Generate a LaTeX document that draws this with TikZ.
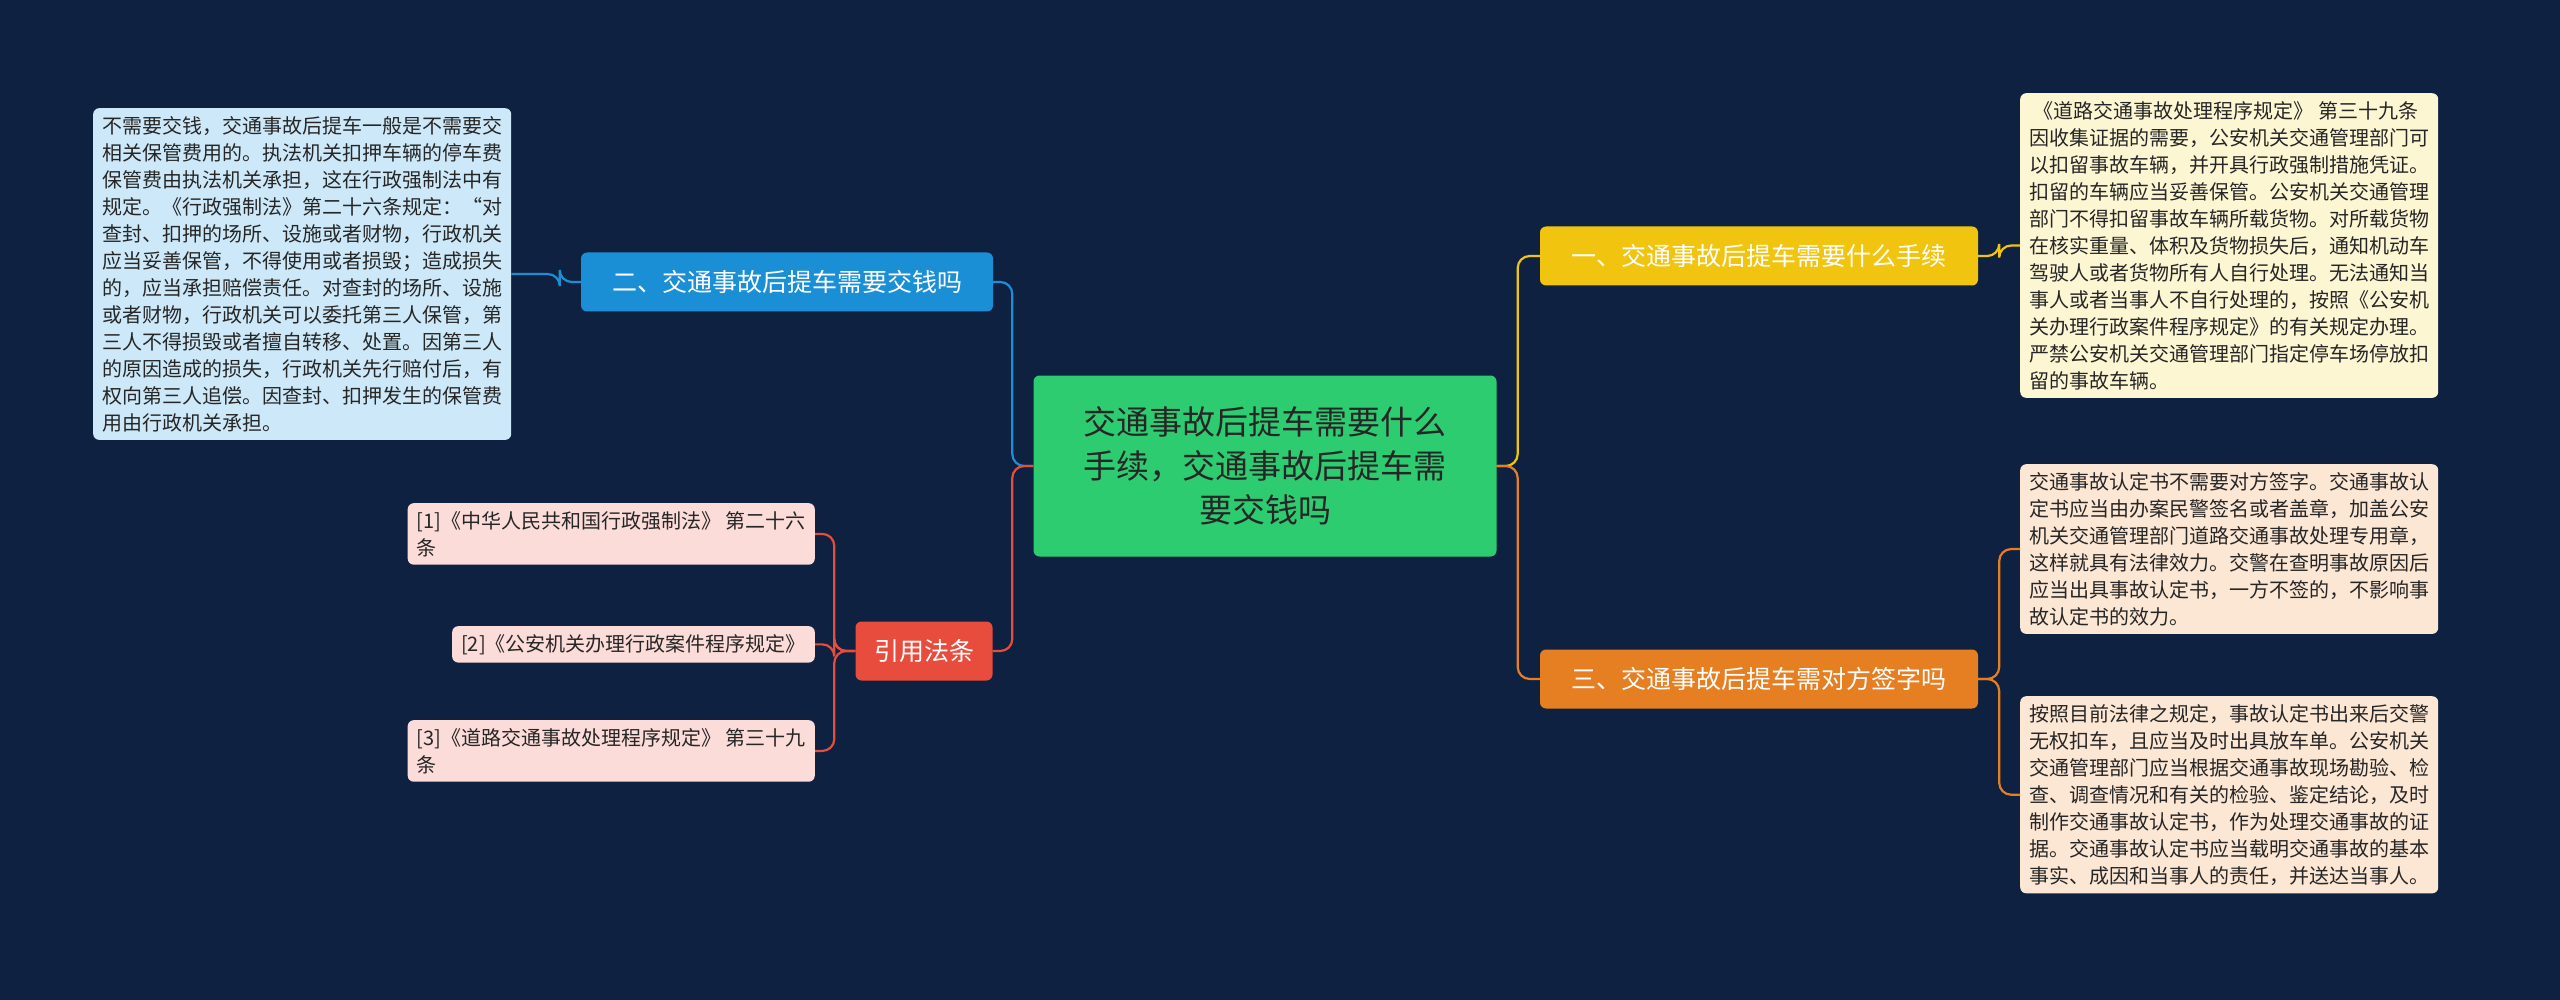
\documentclass[tikz,border=0pt]{standalone}
\usepackage{fontspec}
\setmainfont{Noto Sans CJK SC}
\usepackage{tikz}
\definecolor{bgc}{HTML}{0E2140}
\definecolor{rootc}{HTML}{2ECC71}
\definecolor{yelc}{HTML}{F1C40F}
\definecolor{orac}{HTML}{E67E22}
\definecolor{bluc}{HTML}{1B8FD6}
\definecolor{redc}{HTML}{E74C3C}
\definecolor{creamc}{HTML}{FDF6D3}
\definecolor{peachc}{HTML}{FCE6D4}
\definecolor{skyc}{HTML}{CDE9F9}
\definecolor{pinkc}{HTML}{FBDCD9}
\tikzset{
  leaf/.style={anchor=north west, rounded corners=6pt, inner xsep=9pt, inner ysep=8pt,
    align=left, font=\fontsize{20}{27}\selectfont, text=black!85},
  branch/.style={rounded corners=6pt, text=white, font=\fontsize{25}{30}\selectfont,
    minimum height=59pt, inner xsep=10pt},
  link/.style={line width=2.2pt, rounded corners=12pt}
}
\begin{document}
\begin{tikzpicture}[x=1pt,y=-1pt]
\fill[bgc] (0,0) rectangle (2560,1000);
\useasboundingbox (0,0) rectangle (2560,1000);
% root
\node[fill=rootc, rounded corners=6pt, minimum width=463pt, minimum height=181pt, align=center,
  font=\fontsize{33}{44}\selectfont, text=black!85] (root) at (1265,466)
  {交通事故后提车需要什么\\手续，交通事故后提车需\\要交钱吗};
% branches
\node[branch, fill=yelc, minimum width=438pt] (b1) at (1759,256) {一、交通事故后提车需要什么手续};
\node[branch, fill=orac, minimum width=438pt] (b3) at (1759,679) {三、交通事故后提车需对方签字吗};
\node[branch, fill=bluc, minimum width=412pt] (b2) at (787,282) {二、交通事故后提车需要交钱吗};
\node[branch, fill=redc, minimum width=137pt] (b4) at (924,651) {引用法条};
% leaves
\node[leaf, fill=creamc] (l1) at (2020,93) {%
\ 《道路交通事故处理程序规定》 第三十九条\\
因收集证据的需要，公安机关交通管理部门可\\
以扣留事故车辆，并开具行政强制措施凭证。\\
扣留的车辆应当妥善保管。公安机关交通管理\\
部门不得扣留事故车辆所载货物。对所载货物\\
在核实重量、体积及货物损失后，通知机动车\\
驾驶人或者货物所有人自行处理。无法通知当\\
事人或者当事人不自行处理的，按照《公安机\\
关办理行政案件程序规定》的有关规定办理。\\
严禁公安机关交通管理部门指定停车场停放扣\\
留的事故车辆。};
\node[leaf, fill=peachc] (l2) at (2020,464) {%
交通事故认定书不需要对方签字。交通事故认\\
定书应当由办案民警签名或者盖章，加盖公安\\
机关交通管理部门道路交通事故处理专用章，\\
这样就具有法律效力。交警在查明事故原因后\\
应当出具事故认定书，一方不签的，不影响事\\
故认定书的效力。};
\node[leaf, fill=peachc] (l3) at (2020,696) {%
按照目前法律之规定，事故认定书出来后交警\\
无权扣车，且应当及时出具放车单。公安机关\\
交通管理部门应当根据交通事故现场勘验、检\\
查、调查情况和有关的检验、鉴定结论，及时\\
制作交通事故认定书，作为处理交通事故的证\\
据。交通事故认定书应当载明交通事故的基本\\
事实、成因和当事人的责任，并送达当事人。};
\node[leaf, fill=skyc] (l4) at (93,108) {%
不需要交钱，交通事故后提车一般是不需要交\\
相关保管费用的。执法机关扣押车辆的停车费\\
保管费由执法机关承担，这在行政强制法中有\\
规定。《行政强制法》第二十六条规定：“对\\
查封、扣押的场所、设施或者财物，行政机关\\
应当妥善保管，不得使用或者损毁；造成损失\\
的，应当承担赔偿责任。对查封的场所、设施\\
或者财物，行政机关可以委托第三人保管，第\\
三人不得损毁或者擅自转移、处置。因第三人\\
的原因造成的损失，行政机关先行赔付后，有\\
权向第三人追偿。因查封、扣押发生的保管费\\
用由行政机关承担。};
\node[leaf, fill=pinkc, anchor=north east] (r1) at (815,503) {%
[1]《中华人民共和国行政强制法》 第二十六\\条};
\node[leaf, fill=pinkc, anchor=north east] (r2) at (815,626) {%
[2]《公安机关办理行政案件程序规定》};
\node[leaf, fill=pinkc, anchor=north east] (r3) at (815,720) {%
[3]《道路交通事故处理程序规定》 第三十九\\条};
% links
\draw[link, yelc] (root.east) -- ++(21,0) |- (b1.west);
\draw[link, orac] (root.east) -- ++(21,0) |- (b3.west);
\draw[link, bluc] (root.west) -- ++(-21,0) |- (b2.east);
\draw[link, redc] (root.west) -- ++(-21,0) |- (b4.east);
\draw[link, yelc] (b1.east) -- ++(21,0) |- (l1.west);
\draw[link, orac] (b3.east) -- ++(21,0) |- (l2.west);
\draw[link, orac] (b3.east) -- ++(21,0) |- (l3.west);
\draw[link, bluc] (b2.west) -- ++(-21,0) |- (l4.east);
\draw[link, redc] (b4.west) -- ++(-21,0) |- (r1.east);
\draw[link, redc] (b4.west) -- ++(-21,0) |- (r2.east);
\draw[link, redc] (b4.west) -- ++(-21,0) |- (r3.east);
\end{tikzpicture}
\end{document}
